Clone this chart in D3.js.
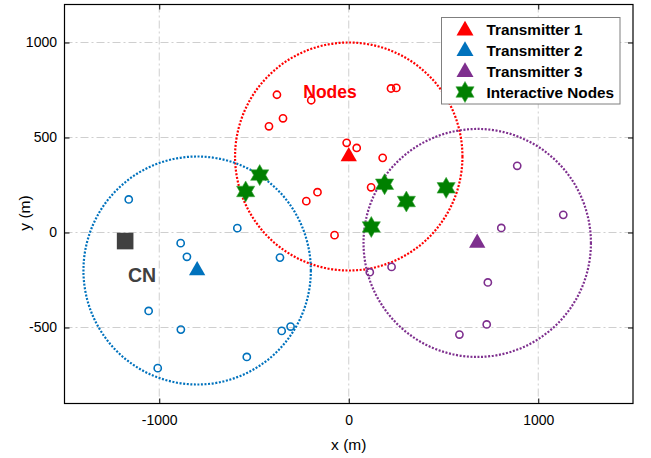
<!DOCTYPE html>
<html>
<head>
<meta charset="utf-8">
<script src="https://cdn.jsdelivr.net/npm/d3@7"></script>
<style>
  html, body { margin: 0; padding: 0; background: #fff; }
  svg { display: block; font-family: "Liberation Sans", Arial, Helvetica, sans-serif; }
</style>
</head>
<body>
<svg id="chart" width="651" height="458"></svg>
<script>
// Axis ticks
const xTicks = [-1000, 0, 1000];
const yTicks = [-500, 0, 500, 1000];

// Transmitters: position and coverage radius (m)
const transmitterNames = ["Transmitter 1", "Transmitter 2", "Transmitter 3"];
const transmitterX = [0, -800, 678];
const transmitterY = [400, -200, -55];
const coverageRadius = [600, 600, 600];
const transmitterColors = ["#ff0000", "#0072bd", "#7e2f8e"];

// Nodes served by each transmitter
const nodes1X = [-379, -198, -347, -421, 223, 251, -11, 42, 179, 118, -165, -224, -75];
const nodes1Y = [725, 696, 601, 559, 758, 761, 472, 445, 393, 238, 212, 165, -14];
const nodes2X = [-1161, -588, -887, -854, -363, -1056, -886, -354, -307, -538, -1008];
const nodes2Y = [174, 23, -56, -128, -132, -413, -511, -518, -495, -655, -714];
const nodes3X = [889, 1132, 805, 226, 111, 734, 728, 584];
const nodes3Y = [351, 93, 24, -181, -209, -263, -484, -537];

// Interactive nodes
const interX = [-470, -544, 189, 304, 514, 119];
const interY = [302, 216, 254, 163, 235, 29];

// Central node
const cnX = -1180;
const cnY = -45;

const svg = d3.select("#chart");
const plot = { left: 64.5, right: 633, top: 4.5, bottom: 403.5 };

const x = d3.scaleLinear().domain([-1500, 1500]).range([plot.left, plot.right]);
const y = d3.scaleLinear().domain([-900, 1200]).range([plot.bottom, plot.top]);

svg.append("defs").append("clipPath").attr("id", "clip")
  .append("rect")
  .attr("x", plot.left).attr("y", plot.top)
  .attr("width", plot.right - plot.left).attr("height", plot.bottom - plot.top);

// Grid (dash-dot)
const grid = svg.append("g").attr("stroke", "#cfcfcf").attr("stroke-width", 1)
  .attr("stroke-dasharray", "8,3,2,3");
grid.selectAll(".gx").data(xTicks).join("line")
  .attr("x1", d => x(d)).attr("x2", d => x(d))
  .attr("y1", plot.top).attr("y2", plot.bottom);
grid.selectAll(".gy").data(yTicks).join("line")
  .attr("y1", d => y(d)).attr("y2", d => y(d))
  .attr("x1", plot.left).attr("x2", plot.right);

// Axes with inward ticks on all four sides
const tickLen = 5;
const fmt = d => d < 0 ? "-" + Math.abs(d) : String(d);
function styleAxis(g) {
  g.select(".domain").remove();
  g.selectAll(".tick line").attr("stroke", "#000").attr("stroke-width", 1);
  g.selectAll(".tick text").attr("fill", "#000").attr("font-size", 14);
}
svg.append("g").attr("transform", `translate(0,${plot.bottom})`)
  .call(d3.axisBottom(x).tickValues(xTicks).tickSize(-tickLen).tickPadding(11.5).tickFormat(fmt))
  .call(styleAxis);
svg.append("g").attr("transform", `translate(0,${plot.top})`)
  .call(d3.axisTop(x).tickValues(xTicks).tickSize(-tickLen).tickFormat(""))
  .call(styleAxis);
svg.append("g").attr("transform", `translate(${plot.left},0)`)
  .call(d3.axisLeft(y).tickValues(yTicks).tickSize(-tickLen).tickPadding(7.5).tickFormat(fmt))
  .call(styleAxis);
svg.append("g").attr("transform", `translate(${plot.right},0)`)
  .call(d3.axisRight(y).tickValues(yTicks).tickSize(-tickLen).tickFormat(""))
  .call(styleAxis);

svg.append("rect")
  .attr("x", plot.left).attr("y", plot.top)
  .attr("width", plot.right - plot.left).attr("height", plot.bottom - plot.top)
  .attr("fill", "none").attr("stroke", "#000").attr("stroke-width", 1.2);

// Axis labels
svg.append("text").attr("x", x(0)).attr("y", 450).attr("text-anchor", "middle")
  .attr("font-size", 15.5).text("x (m)");
svg.append("text").attr("transform", `translate(29.5,213) rotate(-90)`)
  .attr("text-anchor", "middle").attr("font-size", 15.5).text("y (m)");

const layer = svg.append("g").attr("clip-path", "url(#clip)");

// Coverage circles (dotted)
layer.selectAll(".cov").data(transmitterX).join("ellipse")
  .attr("cx", (d, i) => x(d)).attr("cy", (d, i) => y(transmitterY[i]))
  .attr("rx", (d, i) => x(coverageRadius[i]) - x(0))
  .attr("ry", (d, i) => y(0) - y(coverageRadius[i]))
  .attr("fill", "none")
  .attr("stroke", (d, i) => transmitterColors[i])
  .attr("stroke-width", 2.2)
  .attr("stroke-dasharray", "2,1.6");

// Node markers (open circles)
const nodeSets = [[nodes1X, nodes1Y], [nodes2X, nodes2Y], [nodes3X, nodes3Y]];
nodeSets.forEach(([xs, ys], k) => {
  layer.selectAll(".n" + k).data(xs).join("circle")
    .attr("cx", d => x(d)).attr("cy", (d, i) => y(ys[i]))
    .attr("r", 3.6)
    .attr("fill", "none")
    .attr("stroke", transmitterColors[k])
    .attr("stroke-width", 1.6);
});

// Transmitter triangles
const tri = d3.symbol().type(d3.symbolTriangle).size(115);
layer.selectAll(".tx").data(transmitterX).join("path")
  .attr("d", tri)
  .attr("transform", (d, i) => `translate(${x(d)},${y(transmitterY[i])})`)
  .attr("fill", (d, i) => transmitterColors[i]);

// Six-pointed star path centred on origin
function hexagram(R) {
  const r = R / Math.sqrt(3);
  const pts = [];
  for (let k = 0; k < 12; k++) {
    const a = -Math.PI / 2 + k * Math.PI / 6;
    const rr = k % 2 === 0 ? R : r;
    pts.push([rr * Math.cos(a), rr * Math.sin(a)]);
  }
  return "M" + pts.map(p => p.join(",")).join("L") + "Z";
}
layer.selectAll(".inter").data(interX).join("path")
  .attr("d", hexagram(10.5))
  .attr("transform", (d, i) => `translate(${x(d)},${y(interY[i])})`)
  .attr("fill", "#008000")
  .attr("stroke", "#3fa83f").attr("stroke-width", 0.6);

// Central node
layer.append("rect")
  .attr("x", x(cnX) - 8.3).attr("y", y(cnY) - 8.3)
  .attr("width", 16.6).attr("height", 16.6)
  .attr("fill", "#404040");
svg.append("text").attr("x", 142).attr("y", 282).attr("text-anchor", "middle")
  .attr("font-size", 19.5).attr("font-weight", "bold").attr("fill", "#404040").text("CN");
svg.append("text").attr("x", 330).attr("y", 98).attr("text-anchor", "middle")
  .attr("font-size", 17.5).attr("font-weight", "bold").attr("fill", "#ff0000").text("Nodes");

// Legend
const legend = svg.append("g");
legend.append("rect").attr("x", 441.5).attr("y", 17.5).attr("width", 178.5).attr("height", 86.5)
  .attr("fill", "#fff").attr("stroke", "#7f7f7f").attr("stroke-width", 1);
const legendLabels = transmitterNames.concat(["Interactive Nodes"]);
const rowY = [29.5, 50, 71, 92];
legendLabels.forEach((label, i) => {
  const g = legend.append("g").attr("transform", `translate(465,${rowY[i]})`);
  if (i < 3) {
    g.append("path").attr("d", d3.symbol().type(d3.symbolTriangle).size(125)())
      .attr("transform", "translate(0,1)").attr("fill", transmitterColors[i]);
  } else {
    g.append("path").attr("d", hexagram(10.5)).attr("fill", "#008000")
      .attr("stroke", "#3fa83f").attr("stroke-width", 0.6);
  }
  g.append("text").attr("x", 21.5).attr("y", 5.5).attr("font-size", 15.3)
    .attr("font-weight", "bold").attr("fill", "#000").text(label);
});
</script>
</body>
</html>
